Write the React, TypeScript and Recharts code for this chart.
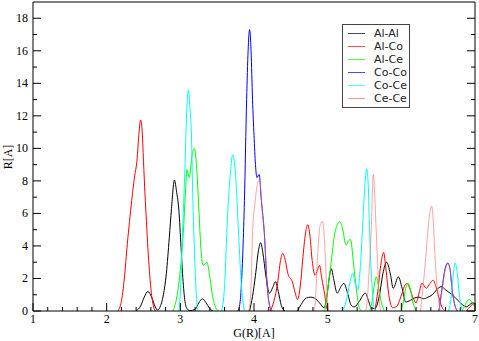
import { Legend, Line, LineChart, XAxis, YAxis } from 'recharts'

type Pt = [number, number]

const xTicks = [
  1, 1.2, 1.4, 1.6, 1.8, 2, 2.2, 2.4, 2.6, 2.8, 3, 3.2, 3.4, 3.6, 3.8, 4,
  4.2, 4.4, 4.6, 4.8, 5, 5.2, 5.4, 5.6, 5.8, 6, 6.2, 6.4, 6.6, 6.8, 7,
]
const yTicks = [0, 1, 2, 3, 4, 5, 6, 7, 8, 9, 10, 11, 12, 13, 14, 15, 16, 17, 18]

const alAl: Pt[][] = [
  [[2.4, 0], [2.46, 0.3], [2.51, 0.85], [2.56, 1.2], [2.61, 0.85], [2.66, 0.25], [2.69, 0.05],
    [2.72, 0.2], [2.77, 1.0], [2.81, 2.3], [2.85, 4.5], [2.88, 6.3], [2.92, 8.05], [2.95, 7.3],
    [2.98, 6.2], [3.01, 3.9], [3.03, 2.3], [3.06, 0.7], [3.09, 0.15], [3.13, 0.02], [3.2, 0.1],
    [3.25, 0.5], [3.3, 0.75], [3.35, 0.5], [3.4, 0.15], [3.44, 0]],
  [[3.94, 0], [3.98, 0.9], [4.02, 2.2], [4.06, 3.7], [4.09, 4.2], [4.12, 3.6], [4.16, 2.2],
    [4.21, 1.1], [4.25, 1.4], [4.29, 1.8], [4.33, 1.2], [4.37, 0.35], [4.42, 0]],
  [[4.59, 0], [4.64, 0.4], [4.71, 0.8], [4.77, 0.85], [4.82, 0.8], [4.89, 0.5], [4.95, 0.2],
    [4.99, 0.9], [5.02, 2.0], [5.05, 2.6], [5.08, 2.0], [5.13, 1.1], [5.18, 1.5], [5.22, 1.7],
    [5.27, 1.1], [5.32, 0.35], [5.36, 0.25], [5.43, 0.6], [5.51, 1.1], [5.55, 0.7], [5.59, 0.2],
    [5.64, 0.15], [5.7, 0.9], [5.75, 2.3], [5.8, 3.0], [5.85, 2.3], [5.89, 1.4], [5.96, 2.1],
    [6.01, 1.4], [6.06, 0.55], [6.12, 0.65], [6.18, 0.8], [6.24, 0.85], [6.3, 0.75], [6.36, 0.85],
    [6.42, 1.0], [6.48, 1.3], [6.54, 1.5], [6.6, 1.3], [6.69, 1.0], [6.78, 0.6], [6.88, 0.25],
    [6.97, 0.5], [7.0, 0.4]],
]

const alCo: Pt[][] = [
  [[2.15, 0], [2.2, 0.6], [2.25, 2.5], [2.27, 3.6], [2.31, 5.5], [2.34, 6.8], [2.38, 8.3],
    [2.41, 9.2], [2.44, 11.0], [2.46, 11.75], [2.48, 11.2], [2.5, 9.2], [2.52, 7.2], [2.54, 5.5],
    [2.56, 3.8], [2.58, 2.5], [2.6, 1.4], [2.63, 0.4], [2.66, 0]],
  [[4.22, 0], [4.27, 0.6], [4.32, 1.7], [4.36, 3.1], [4.39, 3.55], [4.43, 3.0], [4.46, 2.3],
    [4.52, 1.8], [4.56, 1.1], [4.59, 0.7], [4.63, 1.6], [4.66, 3.1], [4.7, 4.8], [4.73, 5.3],
    [4.76, 4.6], [4.79, 3.1], [4.83, 2.2], [4.86, 2.5], [4.89, 2.8], [4.92, 2.0], [4.96, 1.0],
    [4.98, 0.3], [5.01, 0]],
  [[5.64, 0], [5.68, 1.2], [5.72, 2.8], [5.76, 3.6], [5.79, 2.6], [5.83, 1.0], [5.88, 0.2],
    [5.94, 0.3], [5.98, 0.7], [6.01, 1.1], [6.05, 1.6], [6.08, 1.7], [6.12, 1.3], [6.16, 0.8],
    [6.2, 0.5], [6.24, 1.1], [6.28, 1.7], [6.34, 1.4], [6.39, 1.7], [6.43, 1.9], [6.47, 1.5],
    [6.51, 0.85], [6.55, 0.25], [6.59, 0]],
  [[6.88, 0], [6.94, 0.3], [7.0, 0.5]],
]

const alCe: Pt[][] = [
  [[2.9, 0], [2.95, 0.8], [3.0, 2.5], [3.04, 4.8], [3.07, 7.3], [3.09, 8.7], [3.12, 8.2],
    [3.16, 9.6], [3.19, 10.0], [3.22, 8.9], [3.25, 6.4], [3.28, 3.8], [3.31, 2.8], [3.36, 3.0],
    [3.4, 2.1], [3.44, 0.85], [3.48, 0.2], [3.52, 0]],
  [[4.96, 0], [5.0, 1.3], [5.05, 3.1], [5.09, 4.6], [5.13, 5.3], [5.16, 5.5], [5.2, 5.1],
    [5.25, 4.05], [5.28, 4.3], [5.31, 4.4], [5.35, 2.95], [5.39, 1.3], [5.43, 0.2], [5.46, 0]],
  [[5.57, 0], [5.6, 0.5], [5.63, 1.5], [5.66, 2.1], [5.69, 1.5], [5.73, 0.5], [5.77, 0]],
  [[6.0, 0], [6.03, 0.6], [6.06, 1.4], [6.09, 1.7], [6.12, 1.4], [6.16, 0.5], [6.2, 0]],
  [[6.82, 0], [6.86, 0.3], [6.9, 0.65], [6.93, 0.7], [6.96, 0.5], [7.0, 0.25]],
]

const coCo: Pt[][] = [
  [[3.78, 0], [3.81, 0.5], [3.83, 1.7], [3.87, 6.8], [3.9, 13.0], [3.92, 16.0], [3.94, 17.3],
    [3.96, 16.0], [3.98, 13.0], [4.0, 10.8], [4.02, 9.0], [4.04, 8.2], [4.07, 8.4], [4.1, 6.8],
    [4.14, 4.8], [4.18, 1.5], [4.22, 0.2], [4.25, 0]],
  [[6.51, 0], [6.55, 1.3], [6.6, 2.7], [6.63, 2.95], [6.66, 2.6], [6.69, 1.3], [6.73, 0.3], [6.76, 0]],
]

const coCe: Pt[][] = [
  [[2.98, 0], [3.0, 1.1], [3.03, 4.8], [3.06, 8.5], [3.09, 12.6], [3.11, 13.6], [3.13, 12.5],
    [3.15, 10.9], [3.17, 6.8], [3.2, 2.7], [3.23, 0.2], [3.25, 0]],
  [[3.56, 0], [3.6, 1.5], [3.64, 5.8], [3.68, 8.5], [3.71, 9.6], [3.75, 8.4], [3.79, 4.8],
    [3.83, 1.5], [3.87, 0]],
  [[5.2, 0], [5.25, 0.6], [5.3, 1.7], [5.34, 2.3], [5.38, 1.6], [5.41, 1.3], [5.44, 2.5],
    [5.47, 4.8], [5.5, 7.4], [5.53, 8.75], [5.55, 7.8], [5.57, 4.8], [5.6, 1.7], [5.63, 0.2], [5.65, 0]],
  [[6.64, 0], [6.67, 0.6], [6.7, 2.0], [6.73, 2.95], [6.76, 2.3], [6.79, 0.9], [6.83, 0]],
]

const ceCe: Pt[][] = [
  [[3.93, 0], [3.96, 1.5], [3.98, 4.8], [4.01, 6.5], [4.03, 7.3], [4.06, 8.0], [4.08, 8.0],
    [4.1, 6.8], [4.14, 4.8], [4.18, 1.5], [4.22, 0.2], [4.25, 0]],
  [[4.81, 0], [4.83, 0.4], [4.86, 3.1], [4.9, 5.3], [4.93, 5.5], [4.95, 4.8], [4.97, 3.1],
    [5.0, 0.4], [5.02, 0]],
  [[5.52, 0], [5.54, 0.85], [5.57, 3.0], [5.59, 4.8], [5.62, 8.4], [5.64, 7.0], [5.66, 4.8],
    [5.69, 1.7], [5.71, 0.2], [5.73, 0]],
  [[6.26, 0], [6.28, 0.85], [6.31, 2.2], [6.34, 3.75], [6.37, 5.4], [6.41, 6.45], [6.43, 5.8],
    [6.46, 3.1], [6.49, 1.3], [6.52, 0.2], [6.54, 0]],
  [[6.51, 0], [6.55, 1.2], [6.6, 2.6], [6.63, 2.9], [6.66, 2.6], [6.69, 1.3], [6.73, 0.3], [6.76, 0]],
]

const series = [
  { name: 'Al-Al', color: '#000000', opacity: 1, segs: alAl },
  { name: 'Al-Co', color: '#ff0000', opacity: 1, segs: alCo },
  { name: 'Al-Ce', color: '#00ff00', opacity: 1, segs: alCe },
  { name: 'Co-Co', color: '#0000ff', opacity: 1, segs: coCo },
  { name: 'Co-Ce', color: '#00ffff', opacity: 1, segs: coCe },
  { name: 'Ce-Ce', color: '#ff7070', opacity: 0.65, segs: ceCe },
]

function toRows(segs: Pt[][]) {
  const rows: { x: number; y: number | null }[] = []
  segs.forEach((seg, i) => {
    if (i > 0) rows.push({ x: seg[0][0] - 0.001, y: null })
    seg.forEach(([x, y]) => rows.push({ x, y }))
  })
  return rows
}

const serif = '"Liberation Serif", "Times New Roman", serif'
const sans = '"DejaVu Sans", sans-serif'

const isMajorX = (v: number) => Math.abs(v - Math.round(v)) < 1e-6
const isMajorY = (v: number) => v % 2 === 0

function BottomTick({ x, y, payload }: any) {
  const major = isMajorX(payload.value)
  return (
    <g>
      <line x1={x} x2={x} y1={y} y2={y - (major ? 8 : 4)} stroke="#000" />
      {major && (
        <text x={x} y={y + 12} textAnchor="middle" fontFamily={serif} fontSize={12} fill="#000">
          {Math.round(payload.value)}
        </text>
      )}
    </g>
  )
}

function TopTick({ x, y, payload }: any) {
  const major = isMajorX(payload.value)
  return <line x1={x} x2={x} y1={y} y2={y + (major ? 8 : 4)} stroke="#000" />
}

function LeftTick({ x, y, payload }: any) {
  const major = isMajorY(payload.value)
  return (
    <g>
      <line x1={x} x2={x + (major ? 8 : 4)} y1={y} y2={y} stroke="#000" />
      {major && (
        <text x={x - 5} y={y + 4} textAnchor="end" fontFamily={serif} fontSize={12} fill="#000">
          {payload.value}
        </text>
      )}
    </g>
  )
}

function RightTick({ x, y, payload }: any) {
  const major = isMajorY(payload.value)
  return <line x1={x} x2={x - (major ? 8 : 4)} y1={y} y2={y} stroke="#000" />
}

function LegendBox() {
  return (
    <div
      style={{
        width: 66,
        height: 80,
        border: '1px solid #444',
        background: '#fff',
        paddingTop: 2,
        boxSizing: 'content-box',
        fontFamily: sans,
        fontSize: 11,
      }}
    >
      {series.map((s) => (
        <div key={s.name} style={{ height: 13, display: 'flex', alignItems: 'center' }}>
          <div style={{ marginLeft: 5, width: 17, height: 1, background: s.color, opacity: 0.7 }} />
          <span style={{ marginLeft: 9, lineHeight: '13px', color: '#222' }}>{s.name}</span>
        </div>
      ))}
    </div>
  )
}

export default function App() {
  return (
    <div style={{ position: 'absolute', left: 0, top: 0, width: 479, height: 341, background: '#fff' }}>
      <LineChart width={479} height={341} margin={{ top: 0, right: 0, bottom: 0, left: 0 }}>
        <XAxis
          type="number"
          dataKey="x"
          domain={[1, 7]}
          ticks={xTicks}
          interval={0}
          allowDataOverflow
          height={30}
          tickSize={0}
          tickMargin={0}
          tickLine={false}
          stroke="#000"
          tick={(p: any) => <BottomTick {...p} />}
        />
        <XAxis
          xAxisId="top"
          orientation="top"
          type="number"
          domain={[1, 7]}
          ticks={xTicks}
          interval={0}
          allowDataOverflow
          height={2}
          tickSize={0}
          tickMargin={0}
          tickLine={false}
          stroke="#000"
          tick={(p: any) => <TopTick {...p} />}
        />
        <YAxis
          type="number"
          domain={[0, 19]}
          ticks={yTicks}
          interval={0}
          allowDataOverflow
          width={33}
          tickSize={0}
          tickMargin={0}
          tickLine={false}
          stroke="#000"
          tick={(p: any) => <LeftTick {...p} />}
        />
        <YAxis
          yAxisId="right"
          orientation="right"
          type="number"
          domain={[0, 19]}
          ticks={yTicks}
          interval={0}
          allowDataOverflow
          width={4}
          tickSize={0}
          tickMargin={0}
          tickLine={false}
          stroke="#000"
          tick={(p: any) => <RightTick {...p} />}
        />
        <Legend
          layout="vertical"
          align="center"
          verticalAlign="middle"
          wrapperStyle={{ position: 'absolute', left: 342, top: 24, width: 68, height: 84 }}
          content={() => <LegendBox />}
        />
        {series.map((s) => (
          <Line
            key={s.name}
            name={s.name}
            data={toRows(s.segs)}
            dataKey="y"
            type="monotone"
            stroke={s.color}
            strokeOpacity={s.opacity}
            strokeWidth={1}
            dot={false}
            activeDot={false}
            connectNulls={false}
            isAnimationActive={false}
          />
        ))}
      </LineChart>
      <div
        style={{
          position: 'absolute',
          left: 254,
          top: 327,
          transform: 'translateX(-50%)',
          fontFamily: serif,
          fontSize: 12,
          lineHeight: '12px',
          whiteSpace: 'nowrap',
        }}
      >
        G(R)[A]
      </div>
      <div
        style={{
          position: 'absolute',
          left: 8,
          top: 157,
          transform: 'translate(-50%, -50%) rotate(-90deg)',
          fontFamily: serif,
          fontSize: 12,
          lineHeight: '12px',
          whiteSpace: 'nowrap',
        }}
      >
        R[A]
      </div>
    </div>
  )
}
